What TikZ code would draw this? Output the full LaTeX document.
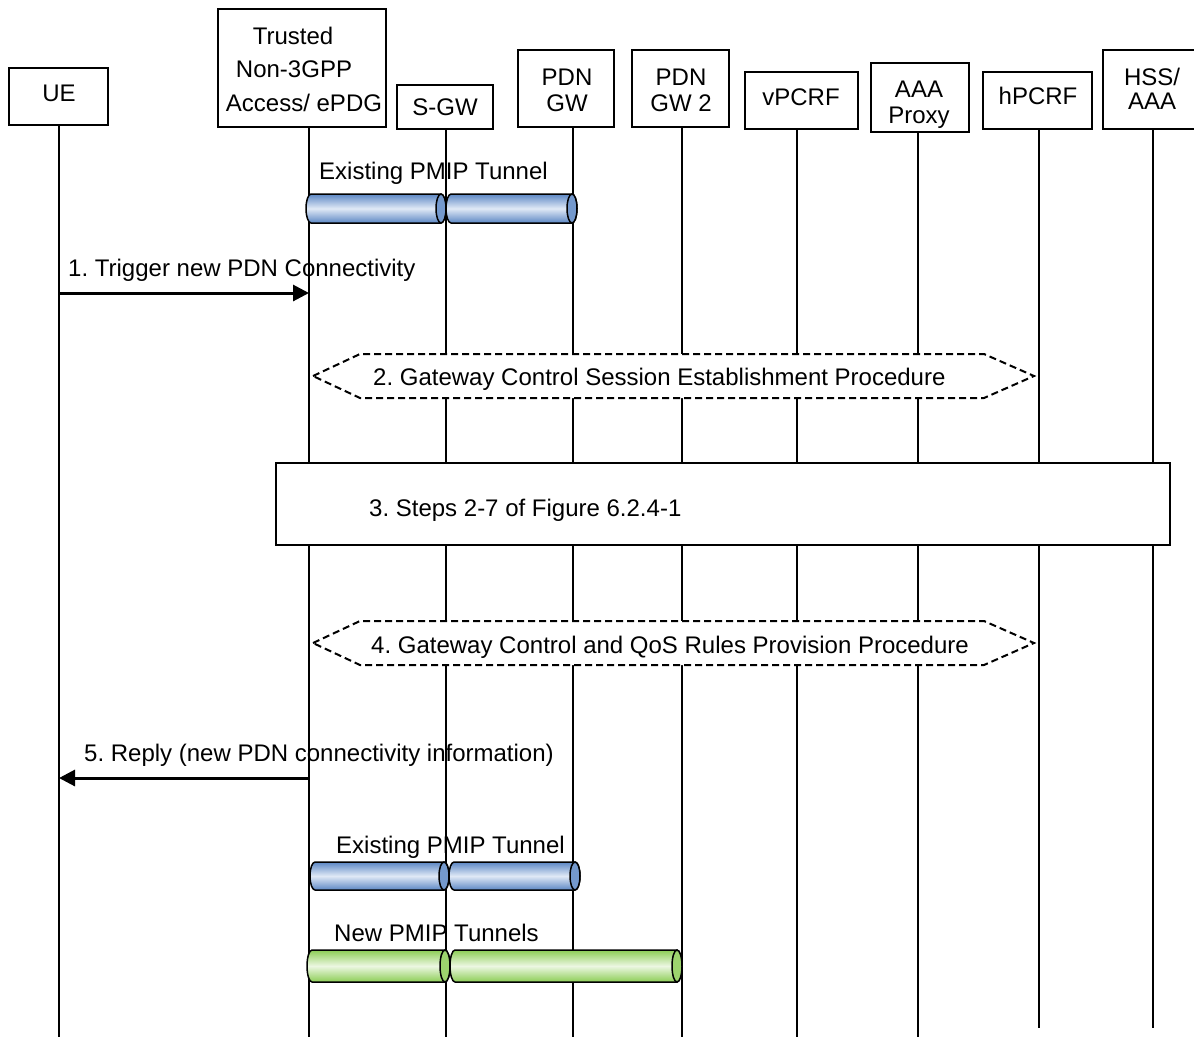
\documentclass[tikz,border=0pt]{standalone}
\usepackage{fontspec}
\setmainfont{Liberation Sans}
\usetikzlibrary{arrows.meta}
\frenchspacing
\definecolor{tblue}{RGB}{92,135,196}
\definecolor{tbluel}{RGB}{224,233,246}
\definecolor{tgreen}{RGB}{140,205,85}
\definecolor{tgreenl}{RGB}{236,247,226}
\tikzset{
  box/.style={draw, line width=1.5pt, fill=white, inner sep=0pt},
  lbl/.style={inner sep=0pt, font=\fontsize{24}{28}\selectfont},
  life/.style={line width=1.6pt},
  msg/.style={line width=3pt, -{Triangle[length=16pt,width=16pt]}},
  proc/.style={draw, dash pattern=on 7pt off 4pt, line width=2pt, fill=white},
  tube/.style={draw=black, line width=1.5pt},
}
% #1 left x, #2 right-end ellipse centre x, #3 centre y, #4 half height, #5 colour
\newcommand\tunnelseg[5]{%
  \path[tube, top color=#5, bottom color=#5, middle color=#5l]
    (#1+5,#3-#4) -- (#2,#3-#4)
    arc[start angle=-90, end angle=90, x radius=5, y radius=#4]
    -- (#1+5,#3+#4)
    arc[start angle=90, end angle=270, x radius=5, y radius=#4] -- cycle;
  \path[tube, fill=#5!85!white] (#2,#3) ellipse[x radius=5, y radius=#4];
}
\begin{document}
\begin{tikzpicture}[x=1pt, y=-1pt]
\useasboundingbox (0,0) rectangle (1194,1037);
\clip (0,0) rectangle (1194,1037);

% participant boxes
\node[box, minimum width=99pt,  minimum height=57pt]  (ueBox)   at (58.5,96.5) {};
\node[box, minimum width=168pt, minimum height=118pt] (trBox)   at (302,68) {};
\node[box, minimum width=96pt,  minimum height=44pt]  (sgwBox)  at (445,107) {};
\node[box, minimum width=96pt,  minimum height=77pt]  (pgwBox)  at (566,88.5) {};
\node[box, minimum width=97pt,  minimum height=77pt]  (pgwtBox) at (680.5,88.5) {};
\node[box, minimum width=113pt, minimum height=57pt]  (vpBox)   at (801.5,100.5) {};
\node[box, minimum width=98pt,  minimum height=69pt]  (aaaBox)  at (920,97.5) {};
\node[box, minimum width=109pt, minimum height=57pt]  (hpBox)   at (1037.5,100.5) {};
\node[box, minimum width=97pt,  minimum height=79pt]  (hssBox)  at (1151.5,89.5) {};

% participant texts
\node[lbl, anchor=base] (ueT)   at (59,101.5)  {UE};
\node[lbl, anchor=base] (trT1)  at (293,44.5)  {Trusted};
\node[lbl, anchor=base] (trT2)  at (294,77.5)  {Non-3GPP};
\node[lbl, anchor=base] (trT3)  at (304,111.5) {Access/ ePDG};
\node[lbl, anchor=base] (sgwT)  at (445,115.5) {S-GW};
\node[lbl, anchor=base] (pgwT1) at (567,85.5)  {PDN};
\node[lbl, anchor=base] (pgwT2) at (567,111.5) {GW};
\node[lbl, anchor=base] (pgwtT1) at (681,85.5) {PDN};
\node[lbl, anchor=base] (pgwtT2) at (681,111.5) {GW 2};
\node[lbl, anchor=base] (vpT)   at (801,105.5) {vPCRF};
\node[lbl, anchor=base] (aaaT1) at (919,97.5)  {AAA};
\node[lbl, anchor=base] (aaaT2) at (919,123.5) {Proxy};
\node[lbl, anchor=base] (hpT)   at (1038,104.5) {hPCRF};
\node[lbl, anchor=base] (hssT1) at (1152,85.5) {HSS/};
\node[lbl, anchor=base] (hssT2) at (1152,109.5) {AAA};

% lifelines
\foreach \n/\x/\t/\b in {ue/59/125/1037, tr/309/127/1037, sgw/446/129/1037,
    pgw/573/127/1037, pgwt/682/127/1037, vp/797/129/1037, aaa/918/132/1037,
    hp/1039/129/1028, hss/1153/129/1028} {
  \coordinate (\n Top) at (\x,\t);
  \coordinate (\n Bot) at (\x,\b);
  \draw[life] (\n Top) -- (\n Bot);
}

% existing PMIP tunnel (top)
\tunnelseg{306}{441}{208.5}{14.5}{tblue}
\tunnelseg{446}{572}{208.5}{14.5}{tblue}
\node[lbl, anchor=base west] (tun1) at (319,179.5) {Existing PMIP Tunnel};

% 1. trigger
\coordinate (m1s) at (59,293);
\coordinate (m1e) at (309,293);
\draw[msg] (m1s) -- (m1e);
\node[lbl, anchor=base west] (l1) at (68,276.5) {1. Trigger new PDN Connectivity};

% 2. gateway control session establishment
\path[proc] (313,376) -- (360,354) -- (984,354) -- (1034,376) -- (984,398) -- (360,398) -- cycle;
\node[lbl, anchor=base west] (l2) at (373,385.5) {2. Gateway Control Session Establishment Procedure};

% 3. steps box
\node[box, minimum width=894pt, minimum height=82pt] (step3) at (723,504) {};
\node[lbl, anchor=base west] (l3) at (369,516.5) {3. Steps 2-7 of Figure 6.2.4-1};

% 4. gateway control and QoS rules provision
\path[proc] (313,643) -- (360,621) -- (984,621) -- (1034,643) -- (984,665) -- (360,665) -- cycle;
\node[lbl, anchor=base west] (l4) at (371,653.5) {4. Gateway Control and QoS Rules Provision Procedure};

% 5. reply
\coordinate (m5s) at (309,778);
\coordinate (m5e) at (59,778);
\draw[msg] (m5s) -- (m5e);
\node[lbl, anchor=base west] (l5) at (84,761.5) {5. Reply (new PDN connectivity information)};

% existing PMIP tunnel (bottom)
\tunnelseg{310}{444}{876}{14}{tblue}
\tunnelseg{449}{575}{876}{14}{tblue}
\node[lbl, anchor=base west] (tun2) at (336,853.5) {Existing PMIP Tunnel};

% new PMIP tunnels
\tunnelseg{307}{445}{966}{16}{tgreen}
\tunnelseg{450}{677}{966}{16}{tgreen}
\node[lbl, anchor=base west] (tun3) at (334,941.5) {New PMIP Tunnels};
\end{tikzpicture}
\end{document}
